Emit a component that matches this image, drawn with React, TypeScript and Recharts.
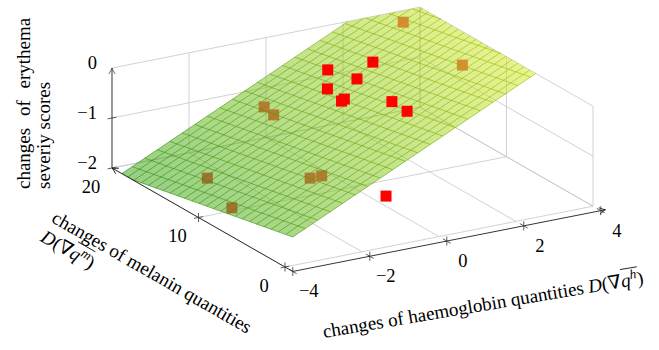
import React from "react";
import { ComposedChart, XAxis, YAxis, Line, Area, Scatter } from "recharts";

// subjects drawn over the fitted plane
const haemOver = [0.66, 1.27, 0.7, 0.18, -0.06, 0.08, 0.44, 0.34, -0.5];
const melOver = [15.8, 13.3, 12.6, 13.7, 11.0, 11.3, 7.4, 5.2, 3.9];
const eryOver = [-0.33, -0.02, -0.2, -0.43, -0.37, -0.38, -0.1, -0.06, -1.5];

// subjects under the plane (seen through it)
const haemUnder = [3.34, 3.37, -0.52, -0.52, -1.19, -0.89, -2.67, -3.2];
const melUnder = [19.0, 12.3, 17.9, 16.8, 9.6, 9.6, 14.9, 9.7];
const eryUnder = [-0.1, -0.3, -1.1, -1.15, -1.6, -1.6, -1.9, -1.9];

// fitted plane: ery = a + b * haem + c * mel
const fitCoef = [-0.04, 0.366, -0.037];
const fitHaemRange = [-3.8, 4];
const fitMelRange = [0, 20];

const haemAxis = [-4, 4];
const melAxis = [0, 20];
const eryAxis = [-2, 0];
const haemTicks = [-4, -2, 0, 2, 4];
const melTicks = [0, 10, 20];
const eryTicks = [-2, -1, 0];

const W = 659;
const H = 350;
const SERIF = "'Liberation Serif', 'Times New Roman', 'DejaVu Serif', serif";
const TITLE_SIZE = 19;

// 3d view: screen position of the (xmin, ymin, zmin) corner and the unit vectors
const VIEW = { ox: 285, oy: 267, ex: [38.5, -7.6], ey: [-8.65, -4.95], ez: -50 };
const AXIS_OFF = -0.9; // front axis lines sit a bit in front of the box
const MESH = 25;

type Pt = { px: number; py: number | null };

const proj = (h: number, m: number, e: number) => ({
  px: VIEW.ox + VIEW.ex[0] * (h - haemAxis[0]) + VIEW.ey[0] * (m - melAxis[0]),
  py:
    VIEW.oy +
    VIEW.ex[1] * (h - haemAxis[0]) +
    VIEW.ey[1] * (m - melAxis[0]) +
    VIEW.ez * (e - eryAxis[0]),
});
const plane = (h: number, m: number) => fitCoef[0] + fitCoef[1] * h + fitCoef[2] * m;
const unit = (v: number[]) => {
  const l = Math.hypot(v[0], v[1]);
  return [v[0] / l, v[1] / l];
};

// box silhouette, the surface is clipped to it
const [hA0, hA1] = haemAxis;
const [mA0, mA1] = melAxis;
const [eA0, eA1] = eryAxis;
const hull = [
  proj(hA0, mA1, eA1),
  proj(hA1, mA1, eA1),
  proj(hA1, mA0, eA1),
  proj(hA1, mA0, eA0),
  proj(hA0, mA0, eA0),
  proj(hA0, mA1, eA0),
];
const hullMid = {
  px: hull.reduce((s, p) => s + p.px, 0) / hull.length,
  py: hull.reduce((s, p) => s + p.py, 0) / hull.length,
};
const side = (a: any, b: any, p: any) =>
  (b.px - a.px) * (p.py - a.py) - (b.py - a.py) * (p.px - a.px);
const edges = hull.map((a, i) => {
  const b = hull[(i + 1) % hull.length];
  return { a, b, s: Math.sign(side(a, b, hullMid)) };
});
const cut = (p: any, q: any, t: number) => ({
  px: p.px + (q.px - p.px) * t,
  py: p.py + (q.py - p.py) * t,
});

function clipPoly(poly: any[]) {
  let out = poly;
  edges.forEach(({ a, b, s }) => {
    const src = out;
    out = [];
    src.forEach((cur, j) => {
      const prev = src[(j + src.length - 1) % src.length];
      const dc = side(a, b, cur) * s;
      const dp = side(a, b, prev) * s;
      if (dc >= 0 !== dp >= 0) out.push(cut(prev, cur, dp / (dp - dc)));
      if (dc >= 0) out.push(cur);
    });
  });
  return out;
}

function clipSeg(p: any, q: any) {
  let t0 = 0;
  let t1 = 1;
  for (const { a, b, s } of edges) {
    const dp = side(a, b, p) * s;
    const dq = side(a, b, q) * s;
    if (dp < 0 && dq < 0) return null;
    if (dp < 0) t0 = Math.max(t0, dp / (dp - dq));
    else if (dq < 0) t1 = Math.min(t1, dp / (dp - dq));
  }
  return t0 < t1 ? [cut(p, q, t0), cut(p, q, t1)] : null;
}

// surface outline as a range area
const [h0, h1] = fitHaemRange;
const [m0, m1] = fitMelRange;
const surfPoly = clipPoly([
  proj(h0, m0, plane(h0, m0)),
  proj(h1, m0, plane(h1, m0)),
  proj(h1, m1, plane(h1, m1)),
  proj(h0, m1, plane(h0, m1)),
]);
const surfRows = Array.from(new Set(surfPoly.map((p) => p.px)))
  .sort((a, b) => a - b)
  .map((x) => {
    const ys: number[] = [];
    surfPoly.forEach((a, i) => {
      const b = surfPoly[(i + 1) % surfPoly.length];
      const lo = Math.min(a.px, b.px);
      const hi = Math.max(a.px, b.px);
      if (x < lo - 1e-9 || x > hi + 1e-9) return;
      if (hi - lo < 1e-9) ys.push(a.py, b.py);
      else ys.push(a.py + ((b.py - a.py) * (x - a.px)) / (b.px - a.px));
    });
    return { px: x, band: [Math.min(...ys), Math.max(...ys)] };
  });

// mesh lines of the surface
const meshRows: Pt[] = [];
const pushSeg = (rows: Pt[], s: any) => {
  if (!s) return;
  rows.push(s[0], s[1], { px: s[1].px, py: null });
};
for (let i = 0; i < MESH; i++) {
  const h = h0 + ((h1 - h0) * i) / (MESH - 1);
  pushSeg(meshRows, clipSeg(proj(h, m0, plane(h, m0)), proj(h, m1, plane(h, m1))));
  const m = m0 + ((m1 - m0) * i) / (MESH - 1);
  pushSeg(meshRows, clipSeg(proj(h0, m, plane(h0, m)), proj(h1, m, plane(h1, m))));
}

// colour gradient along the surface (z direction in screen space)
const a11 = VIEW.ex[0];
const a12 = VIEW.ey[0];
const a21 = VIEW.ex[1] + VIEW.ez * fitCoef[1];
const a22 = VIEW.ey[1] + VIEW.ez * fitCoef[2];
const det = a11 * a22 - a12 * a21;
const grad = [
  (a22 * fitCoef[1] - a21 * fitCoef[2]) / det,
  (a11 * fitCoef[2] - a12 * fitCoef[1]) / det,
];
const zLo = plane(h0, m1);
const zHi = plane(h1, m0);
const gStart = proj(h0, m1, zLo);
const gk = (zHi - zLo) / (grad[0] ** 2 + grad[1] ** 2);
const gEnd = { px: gStart.px + grad[0] * gk, py: gStart.py + grad[1] * gk };

// grey box grid
const gridRows: Pt[] = [];
const gseg = (p: Pt, q: Pt) => gridRows.push(p, q, { px: q.px, py: null });
eryTicks.forEach((e) => gseg(proj(hA0, mA1, e), proj(hA1, mA1, e)));
haemTicks.forEach((h) => gseg(proj(h, mA1, eA0), proj(h, mA1, eA1)));
eryTicks.forEach((e) => gseg(proj(hA1, mA0, e), proj(hA1, mA1, e)));
melTicks.forEach((m) => gseg(proj(hA1, m, eA0), proj(hA1, m, eA1)));
melTicks.forEach((m) => gseg(proj(hA0, m, eA0), proj(hA1, m, eA0)));
haemTicks.forEach((h) => gseg(proj(h, mA0, eA0), proj(h, mA1, eA0)));

// black axis lines
const axisRows: Pt[] = [];
const aseg = (p: Pt, q: Pt) => axisRows.push(p, q, { px: q.px, py: null });
const haemEnd = proj(hA1 + 0.12, AXIS_OFF, eA0);
const melEnd = proj(hA0, mA1, eA0);
const eryEnd = proj(hA0, mA1, eA1);
aseg(proj(hA0, AXIS_OFF, eA0), haemEnd);
aseg(proj(hA0, AXIS_OFF, eA0), melEnd);

const deg = (v: number[]) => (Math.atan2(v[1], v[0]) * 180) / Math.PI;
const arrowPts = [
  { ...haemEnd, angle: deg(VIEW.ex), stroke: "#000" },
  { ...melEnd, angle: deg(VIEW.ey), stroke: "#000" },
  { ...eryEnd, angle: -90, stroke: "#444" },
];
const eryRows: Pt[] = [proj(hA0, mA1, eA0), eryEnd];

const tickPts = [
  ...haemTicks.map((h) => ({ ...proj(h, AXIS_OFF, eA0), a: [0, 1], b: unit(VIEW.ey) })),
  ...melTicks.slice(0, 2).map((m) => ({ ...proj(hA0, m, eA0), a: [0, 1], b: unit(VIEW.ex) })),
  ...eryTicks.slice(0, 2).map((e) => ({ ...proj(hA0, mA1, e), a: unit(VIEW.ex), b: [0, 0] })),
];

const fmt = (v: number) => (v < 0 ? `\u2212${-v}` : `${v}`);
const labelPts = [
  ...haemTicks.map((h) => ({ ...proj(h, AXIS_OFF, eA0), text: fmt(h), dx: 16, dy: 26, anchor: "middle" })),
  ...melTicks.map((m) => ({ ...proj(hA0, m, eA0), text: fmt(m), dx: -21, dy: 24.5, anchor: "middle" })),
  ...eryTicks.map((e) => ({ ...proj(hA0, mA1, e), text: fmt(e), dx: -15, dy: 1, anchor: "end" })),
];

const titlePts = [
  { ...proj(hA0, mA1, -1), kind: "ery", dx: -82, dy: 71 },
  { ...proj(hA0, 10, eA0), kind: "mel", dx: -148, dy: 4 },
  { ...proj(hA1, AXIS_OFF, eA0), kind: "haem", dx: 44, dy: 73 },
];

const overPts = haemOver.map((h, i) => proj(h, melOver[i], eryOver[i]));
const underPts = haemUnder.map((h, i) => proj(h, melUnder[i], eryUnder[i]));

const Square = (p: any) => (
  <rect x={p.cx - 5.5} y={p.cy - 5.5} width={11} height={11} fill="#ff0000" />
);
const SquareUnder = (p: any) => (
  <rect x={p.cx - 5.5} y={p.cy - 5.5} width={11} height={11} fill="rgb(255,55,80)" />
);

const ArrowHead = (p: any) => (
  <path
    d="M -6 -3.2 C -3.6 -1.6 -1.4 -0.5 0 0 C -1.4 0.5 -3.6 1.6 -6 3.2"
    transform={`translate(${p.cx} ${p.cy}) rotate(${p.payload.angle})`}
    fill="none"
    stroke={p.payload.stroke}
    strokeWidth={0.8}
  />
);

const TickMark = (p: any) => {
  const L = 4.5;
  return (
    <g stroke="#333" strokeWidth={0.8}>
      {[p.payload.a, p.payload.b].map((d: number[], i: number) => (
        <line key={i} x1={p.cx - d[0] * L} y1={p.cy - d[1] * L} x2={p.cx + d[0] * L} y2={p.cy + d[1] * L} />
      ))}
    </g>
  );
};

const TickLabel = (p: any) => {
  const d = p.payload;
  return (
    <text x={p.cx + d.dx} y={p.cy + d.dy} textAnchor={d.anchor} fontFamily={SERIF} fontSize={18.5} fill="#000">
      {d.text}
    </text>
  );
};

const Title = (p: any) => {
  const d = p.payload;
  const x = p.cx + d.dx;
  const y = p.cy + d.dy;
  const fs = TITLE_SIZE;
  const txt = { fontFamily: SERIF, fontSize: fs, fill: "#000" };
  if (d.kind === "ery") {
    return (
      <text transform={`rotate(-90 ${x} ${y})`} x={x} y={y} {...txt}>
        <tspan x={x} style={{ wordSpacing: "7px" }}>changes of erythema</tspan>
        <tspan x={x} dy={20}>severiy scores</tspan>
      </text>
    );
  }
  if (d.kind === "mel") {
    const ang = deg([-VIEW.ey[0], -VIEW.ey[1]]);
    const q0 = x + 33;
    return (
      <g transform={`rotate(${ang} ${x} ${y})`}>
        <text x={x} y={y} {...txt}>changes of melanin quantities</text>
        <text x={x} y={y + 22} {...txt}>
          <tspan fontStyle="italic">D</tspan>(∇
        </text>
        <text x={q0} y={y + 22} {...txt}>
          <tspan fontStyle="italic">q</tspan>
          <tspan fontStyle="italic" fontSize={fs * 0.7} dy={-7}>m</tspan>
          <tspan dy={7}>)</tspan>
        </text>
        <line x1={q0 + 1} y1={y + 4} x2={q0 + 21} y2={y + 4} stroke="#000" strokeWidth={0.8} />
      </g>
    );
  }
  const ang = -9.6;
  const q0 = x - 23;
  return (
    <g transform={`rotate(${ang} ${x} ${y})`}>
      <text x={q0} y={y} textAnchor="end" {...txt}>
        changes of haemoglobin quantities <tspan fontStyle="italic">D</tspan>(∇
      </text>
      <text x={q0} y={y} {...txt}>
        <tspan fontStyle="italic">q</tspan>
        <tspan fontStyle="italic" fontSize={fs * 0.7} dy={-7}>h</tspan>
        <tspan dy={7}>)</tspan>
      </text>
      <line x1={q0 + 1} y1={y - 18} x2={q0 + 18} y2={y - 18} stroke="#000" strokeWidth={0.8} />
    </g>
  );
};

export default function App() {
  return (
    <div style={{ width: W, height: H }}>
      <style>{"body{margin:0}"}</style>
      <ComposedChart width={W} height={H} data={surfRows} margin={{ top: 0, right: 0, bottom: 0, left: 0 }}>
        <defs>
          <linearGradient id="surfFill" gradientUnits="userSpaceOnUse" x1={gStart.px} y1={gStart.py} x2={gEnd.px} y2={gEnd.py}>
            <stop offset="0" stopColor="rgb(40,160,10)" />
            <stop offset="1" stopColor="rgb(245,245,35)" />
          </linearGradient>
          <linearGradient id="surfMesh" gradientUnits="userSpaceOnUse" x1={gStart.px} y1={gStart.py} x2={gEnd.px} y2={gEnd.py}>
            <stop offset="0" stopColor="rgb(40,130,10)" />
            <stop offset="1" stopColor="rgb(175,200,0)" />
          </linearGradient>
        </defs>
        <XAxis type="number" dataKey="px" domain={[0, W]} allowDataOverflow hide />
        <YAxis type="number" dataKey="py" domain={[0, H]} allowDataOverflow reversed hide />
        <Line data={gridRows} dataKey="py" stroke="#c6c6c6" strokeWidth={0.8} dot={false} activeDot={false} isAnimationActive={false} zIndex={1} />
        <Scatter data={underPts} shape={SquareUnder} isAnimationActive={false} zIndex={2} />
        <Area dataKey="band" type="linear" stroke="none" fill="url(#surfFill)" fillOpacity={0.5} dot={false} activeDot={false} isAnimationActive={false} zIndex={3} />
        <Line data={meshRows} dataKey="py" stroke="url(#surfMesh)" strokeOpacity={0.65} strokeWidth={0.9} dot={false} activeDot={false} isAnimationActive={false} zIndex={4} />
        <Scatter data={overPts} shape={Square} isAnimationActive={false} zIndex={5} />
        <Line data={eryRows} dataKey="py" stroke="#555" strokeWidth={1.1} dot={false} activeDot={false} isAnimationActive={false} zIndex={6} />
        <Line data={axisRows} dataKey="py" stroke="#000" strokeWidth={0.8} dot={false} activeDot={false} isAnimationActive={false} zIndex={6} />
        <Scatter data={arrowPts} shape={ArrowHead} isAnimationActive={false} zIndex={7} />
        <Scatter data={tickPts} shape={TickMark} isAnimationActive={false} zIndex={7} />
        <Scatter data={labelPts} shape={TickLabel} isAnimationActive={false} zIndex={8} />
        <Scatter data={titlePts} shape={Title} isAnimationActive={false} zIndex={8} />
      </ComposedChart>
    </div>
  );
}
